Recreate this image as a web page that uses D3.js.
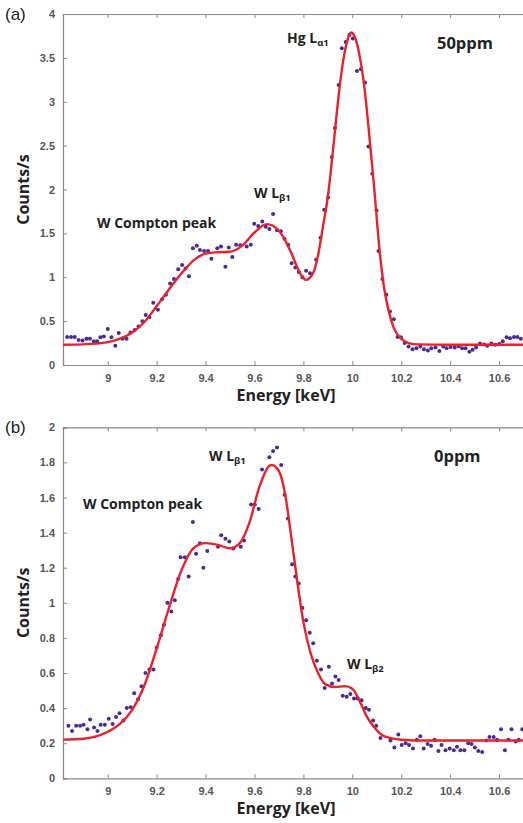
<!DOCTYPE html>
<html lang="en">
<head>
<meta charset="UTF-8">
<title>XRF spectra: 50ppm and 0ppm</title>
<script src="https://d3js.org/d3.v7.min.js"></script>
<style>
  body { margin: 0; background: #fff; }
  svg { display: block; }
  .tick text { font-family: "Liberation Sans", Arial, sans-serif; font-size: 11px; font-weight: bold; fill: #555; }
  .domain, .tick line { stroke: #8a8a8a; }
  .ttl { font-family: "Open Sans", "Noto Sans", sans-serif; font-weight: bold; fill: #222; }
  .ann { font-family: "Open Sans", "Noto Sans", sans-serif; font-weight: bold; fill: #222; }
  .panel { font-family: "Liberation Sans", Arial, sans-serif; font-size: 17px; fill: #222; }
</style>
</head>
<body>
<svg id="chart" width="523" height="823"></svg>
<script>
// tick labels
const xTicks = [9, 9.2, 9.4, 9.6, 9.8, 10, 10.2, 10.4, 10.6];
const yTicksA = [0, 0.5, 1, 1.5, 2, 2.5, 3, 3.5, 4];
const yTicksB = [0, 0.2, 0.4, 0.6, 0.8, 1, 1.2, 1.4, 1.6, 1.8, 2];

// (a) 50ppm: measured counts [energy keV, counts/s]
const pointsA = [[8.834,0.32],[8.850,0.32],[8.865,0.32],[8.881,0.285],[8.897,0.28],[8.913,0.30],[8.927,0.30],[8.943,0.27],[8.957,0.27],[8.970,0.315],[8.984,0.325],[9.000,0.41],[9.015,0.315],[9.031,0.22],[9.045,0.365],[9.061,0.30],[9.077,0.30],[9.093,0.37],[9.110,0.40],[9.126,0.44],[9.142,0.50],[9.155,0.57],[9.170,0.545],[9.186,0.71],[9.205,0.63],[9.222,0.75],[9.238,0.80],[9.255,0.93],[9.271,0.98],[9.288,1.09],[9.304,1.14],[9.318,1.10],[9.332,1.01],[9.348,1.33],[9.364,1.36],[9.377,1.31],[9.394,1.30],[9.410,1.30],[9.424,1.21],[9.448,1.33],[9.463,1.35],[9.481,1.12],[9.495,1.34],[9.509,1.23],[9.525,1.37],[9.542,1.365],[9.568,1.35],[9.585,1.37],[9.599,1.61],[9.615,1.585],[9.632,1.635],[9.646,1.575],[9.661,1.55],[9.676,1.72],[9.692,1.535],[9.708,1.525],[9.723,1.44],[9.738,1.37],[9.752,1.16],[9.767,1.11],[9.781,1.06],[9.796,1.00],[9.811,1.075],[9.827,1.045],[9.852,1.20],[9.870,1.45],[9.885,1.77],[9.901,1.91],[9.916,2.37],[9.929,2.70],[9.944,3.19],[9.957,3.61],[9.973,3.68],[9.988,3.76],[10.002,3.72],[10.019,3.35],[10.035,3.37],[10.052,3.22],[10.066,2.49],[10.082,2.18],[10.099,1.76],[10.107,1.30],[10.123,0.98],[10.139,0.80],[10.154,0.61],[10.170,0.52],[10.185,0.32],[10.199,0.315],[10.214,0.25],[10.230,0.21],[10.246,0.18],[10.262,0.19],[10.278,0.21],[10.293,0.18],[10.309,0.165],[10.323,0.19],[10.340,0.20],[10.356,0.16],[10.372,0.21],[10.386,0.19],[10.402,0.205],[10.419,0.20],[10.435,0.215],[10.449,0.19],[10.463,0.19],[10.479,0.15],[10.492,0.175],[10.506,0.20],[10.522,0.245],[10.539,0.235],[10.552,0.22],[10.569,0.245],[10.585,0.23],[10.601,0.24],[10.615,0.27],[10.631,0.315],[10.645,0.305],[10.661,0.32],[10.675,0.32],[10.689,0.30]];

// (a) fitted curve
const fitA = [[8.80,0.23],[8.90,0.235],[9.00,0.26],[9.05,0.30],[9.10,0.37],[9.15,0.49],[9.20,0.67],[9.25,0.86],[9.30,1.04],[9.35,1.19],[9.40,1.27],[9.45,1.285],[9.50,1.29],[9.55,1.36],[9.60,1.51],[9.65,1.605],[9.70,1.53],[9.75,1.28],[9.78,1.08],[9.81,0.97],[9.84,1.05],[9.86,1.25],[9.88,1.58],[9.90,1.92],[9.92,2.42],[9.94,2.97],[9.96,3.42],[9.98,3.70],[9.995,3.79],[10.01,3.74],[10.03,3.52],[10.05,3.15],[10.07,2.60],[10.09,2.00],[10.11,1.35],[10.13,0.88],[10.15,0.60],[10.17,0.42],[10.20,0.30],[10.23,0.25],[10.27,0.235],[10.40,0.23],[10.72,0.23]];

// (b) 0ppm: measured counts
const pointsB = [[8.839,0.30],[8.854,0.27],[8.871,0.30],[8.887,0.30],[8.901,0.305],[8.917,0.28],[8.928,0.335],[8.944,0.29],[8.958,0.27],[8.971,0.305],[8.988,0.305],[9.004,0.34],[9.020,0.31],[9.034,0.35],[9.048,0.37],[9.064,0.33],[9.078,0.40],[9.094,0.405],[9.108,0.485],[9.124,0.45],[9.138,0.525],[9.154,0.60],[9.170,0.62],[9.187,0.62],[9.200,0.745],[9.217,0.815],[9.230,0.875],[9.244,1.00],[9.260,0.95],[9.274,1.015],[9.288,1.135],[9.298,1.26],[9.315,1.26],[9.331,1.15],[9.348,1.46],[9.361,1.28],[9.377,1.34],[9.391,1.20],[9.407,1.295],[9.451,1.32],[9.464,1.385],[9.481,1.365],[9.497,1.35],[9.513,1.31],[9.544,1.32],[9.557,1.355],[9.586,1.56],[9.601,1.56],[9.617,1.535],[9.631,1.76],[9.661,1.83],[9.676,1.865],[9.692,1.885],[9.709,1.785],[9.723,1.615],[9.737,1.48],[9.754,1.22],[9.767,1.15],[9.781,1.11],[9.796,0.97],[9.811,0.90],[9.826,0.83],[9.840,0.77],[9.855,0.67],[9.872,0.62],[9.887,0.515],[9.904,0.635],[9.917,0.54],[9.931,0.58],[9.944,0.56],[9.961,0.47],[9.977,0.465],[9.992,0.48],[10.007,0.455],[10.022,0.455],[10.038,0.445],[10.055,0.40],[10.068,0.39],[10.085,0.33],[10.098,0.30],[10.115,0.23],[10.156,0.215],[10.172,0.175],[10.188,0.25],[10.202,0.19],[10.218,0.20],[10.232,0.19],[10.248,0.17],[10.264,0.22],[10.278,0.24],[10.292,0.17],[10.308,0.195],[10.322,0.185],[10.336,0.22],[10.352,0.155],[10.365,0.19],[10.381,0.16],[10.398,0.17],[10.415,0.16],[10.428,0.18],[10.442,0.16],[10.458,0.16],[10.474,0.20],[10.488,0.195],[10.501,0.175],[10.515,0.155],[10.531,0.15],[10.548,0.215],[10.561,0.235],[10.578,0.235],[10.592,0.22],[10.608,0.28],[10.624,0.16],[10.638,0.22],[10.651,0.28],[10.668,0.21],[10.681,0.22],[10.695,0.28]];

// (b) fitted curve
const fitB = [[8.80,0.22],[8.90,0.225],[9.00,0.265],[9.05,0.31],[9.10,0.39],[9.15,0.53],[9.20,0.74],[9.25,0.97],[9.30,1.18],[9.35,1.31],[9.40,1.34],[9.45,1.33],[9.50,1.31],[9.54,1.34],[9.58,1.46],[9.62,1.66],[9.66,1.78],[9.67,1.785],[9.70,1.75],[9.725,1.62],[9.75,1.38],[9.775,1.12],[9.80,0.89],[9.83,0.71],[9.86,0.60],[9.89,0.535],[9.93,0.52],[9.97,0.525],[10.00,0.51],[10.03,0.44],[10.06,0.35],[10.09,0.29],[10.13,0.24],[10.20,0.22],[10.30,0.215],[10.72,0.215]];

const svg = d3.select("#chart");
const left = 63, right = 523.5;
const x = d3.scaleLinear().domain([8.817, 10.7]).range([left, right]);

function panel(cfg) {
  const y = d3.scaleLinear().domain([0, cfg.ymax]).range([cfg.bottom, cfg.top]);
  const g = svg.append("g");
  const clipId = "clip" + cfg.tag.replace(/\W/g, "");
  g.append("clipPath").attr("id", clipId)
    .append("rect").attr("x", left).attr("y", cfg.top).attr("width", right - left).attr("height", cfg.bottom - cfg.top);

  // axes, ticks pointing inwards like MATLAB
  g.append("g").attr("transform", "translate(0," + cfg.bottom + ")")
    .call(d3.axisBottom(x).tickValues(xTicks).tickSize(-4).tickPadding(9).tickFormat(d => +d.toFixed(1)));
  g.append("g").attr("transform", "translate(0," + cfg.top + ")")
    .call(d3.axisTop(x).tickValues(xTicks).tickSize(-4).tickFormat(""));
  g.append("g").attr("transform", "translate(" + left + ",0)")
    .call(d3.axisLeft(y).tickValues(cfg.yTicks).tickSize(-4).tickPadding(8).tickFormat(d => +d.toFixed(1)));
  g.selectAll(".domain").attr("stroke-width", 1.2);

  const line = d3.line().x(d => x(d[0])).y(d => y(d[1])).curve(d3.curveMonotoneX);
  const plot = g.append("g").attr("clip-path", "url(#" + clipId + ")");
  plot.selectAll("circle").data(cfg.points).join("circle")
    .attr("cx", d => x(d[0])).attr("cy", d => y(d[1])).attr("r", 2)
    .attr("fill", "#4b2a96");
  plot.append("path").datum(cfg.fit).attr("d", line)
    .attr("fill", "none").attr("stroke", "#e8212b").attr("stroke-width", 2.4);

  g.append("text").attr("class", "panel").attr("x", 5).attr("y", cfg.top + 6).text(cfg.tag);
  g.append("text").attr("class", "ttl").attr("font-size", 16)
    .attr("text-anchor", "middle").attr("x", 286).attr("y", cfg.bottom + 36).text("Energy [keV]");
  g.append("text").attr("class", "ttl").attr("font-size", 16)
    .attr("text-anchor", "middle")
    .attr("transform", "translate(29," + (cfg.top + cfg.bottom) / 2 + ") rotate(-90)")
    .text("Counts/s");

  cfg.notes.forEach(n => {
    const t = g.append("text").attr("class", "ann").attr("font-size", n.size || 14)
      .attr("x", n.x).attr("y", n.y);
    t.append("tspan").text(n.text);
    if (n.sub) {
      t.append("tspan").attr("font-size", 9.5).attr("dy", 3).text(n.sub);
    }
  });
}

panel({
  tag: "(a)", top: 14, bottom: 365, ymax: 4, yTicks: yTicksA,
  points: pointsA, fit: fitA,
  notes: [
    { x: 287, y: 43, text: "Hg L", sub: "α1" },
    { x: 437, y: 49, text: "50ppm", size: 16.5 },
    { x: 254, y: 198, text: "W L", sub: "β1" },
    { x: 97, y: 228, text: "W Compton peak" }
  ]
});

panel({
  tag: "(b)", top: 427.3, bottom: 778.3, ymax: 2, yTicks: yTicksB,
  points: pointsB, fit: fitB,
  notes: [
    { x: 209, y: 461, text: "W L", sub: "β1" },
    { x: 434, y: 462, text: "0ppm", size: 16.5 },
    { x: 83, y: 509, text: "W Compton peak" },
    { x: 347, y: 669, text: "W L", sub: "β2" }
  ]
});
</script>
</body>
</html>
